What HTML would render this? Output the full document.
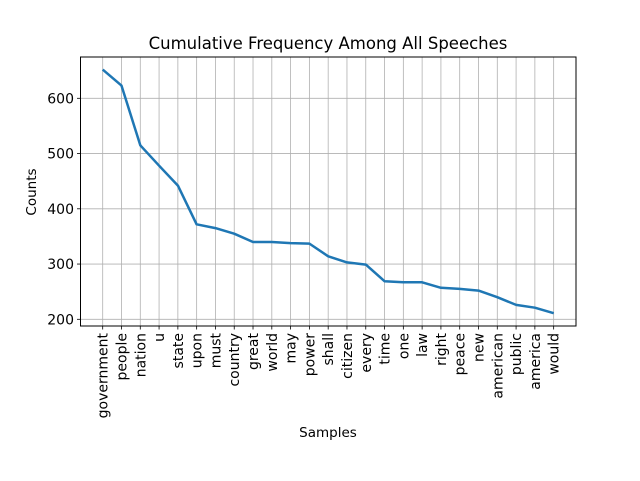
<!DOCTYPE html>
<html><head><meta charset="utf-8"><style>
body{margin:0;background:#fff;font-family:"Liberation Sans","DejaVu Sans",sans-serif;}
</style></head><body>
<svg width="640" height="476" xmlns="http://www.w3.org/2000/svg" id="svg" font-family="'DejaVu Sans','Liberation Sans',sans-serif">
<rect width="640" height="476" fill="#fff"/>
<g id="grid"></g>
<g id="xt"></g>
<g id="yt"></g>
<path id="line" fill="none" stroke="#1f77b4" stroke-width="2.5" stroke-linejoin="round"/>
<rect x="80.5" y="57" width="495.5" height="269" fill="none" stroke="#000" stroke-width="1"/>
<text x="328" y="49" text-anchor="middle" font-size="16.5">Cumulative Frequency Among All Speeches</text>
<text x="328" y="437" text-anchor="middle" font-size="13.5">Samples</text>
<text transform="translate(36,192) rotate(-90)" text-anchor="middle" font-size="13.5">Counts</text>
</svg>
<script>
const categories=["government","people","nation","u","state","upon","must","country","great","world","may","power","shall","citizen","every","time","one","law","right","peace","new","american","public","america","would"];
const counts=[652,623,515,478,442,372,365,355,340,340,338,337,314,303,299,269,267,267,257,255,252,240,226,221,211];
const yTicks=[200,300,400,500,600];
const NS="http://www.w3.org/2000/svg";
const x0=102.7,dx=18.79;
const xs=i=>x0+i*dx;
const ys=v=>319.3-(v-200)*0.5525;
const g=document.getElementById('grid'),xt=document.getElementById('xt'),yt=document.getElementById('yt');
function mk(t,a,p){const e=document.createElementNS(NS,t);for(const k in a)e.setAttribute(k,a[k]);p.appendChild(e);return e;}
categories.forEach((c,i)=>{
 const x=xs(i);
 const l=mk('line',{x1:x,x2:x,y1:57,y2:326,stroke:'#b0b0b0','stroke-width':0.8},g);
 
 
 mk('line',{x1:x,x2:x,y1:326,y2:329.5,stroke:'#000','stroke-width':0.8},xt);
 const t=mk('text',{transform:`translate(${x+5},333) rotate(-90)`,'text-anchor':'end','font-size':14},xt);
 t.textContent=c;
 
 
});
yTicks.forEach(v=>{
 const y=ys(v);
 const l=mk('line',{x1:80.5,x2:576,y1:y,y2:y,stroke:'#b0b0b0','stroke-width':0.8},g);
 
 
 mk('line',{x1:77,x2:80.5,y1:y,y2:y,stroke:'#000','stroke-width':0.8},yt);
 const t=mk('text',{x:74,y:y+5,'text-anchor':'end','font-size':14},yt);
 t.textContent=v;
 
 
});
document.getElementById('line').setAttribute('d',counts.map((v,i)=>(i?'L':'M')+xs(i).toFixed(1)+','+ys(v).toFixed(1)).join(''));
</script>
</body></html>
